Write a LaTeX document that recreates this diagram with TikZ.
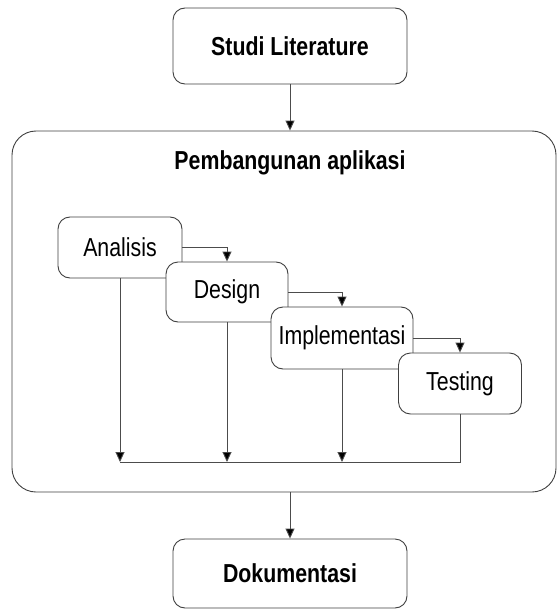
\documentclass[tikz,border=0pt]{standalone}
\usepackage{fontspec}
\setmainfont{Liberation Sans}[FakeStretch=0.82]
\usetikzlibrary{arrows.meta}
\begin{document}
\begin{tikzpicture}[x=1pt,y=-1pt,
  line width=0.9pt,
  box/.style={draw=black!75, fill=white, rounded corners=12pt, inner sep=0pt,
    font=\fontsize{26}{29}\selectfont},
  bbox/.style={box, font=\fontsize{26}{29}\selectfont\bfseries},
  conn/.style={draw=black!70},
  arr/.style={conn, -{Triangle[width=9pt,length=10pt,fill=black]}},
]
\useasboundingbox (0,0) rectangle (558,615);
\node[bbox, minimum width=234pt, minimum height=76pt] (lit) at (290,46) {Studi Literature};
\node[box, minimum width=544pt, minimum height=361pt, rounded corners=24pt] (main) at (284,311.5) {};
\node[font=\fontsize{26}{29}\selectfont\bfseries] (title) at (290,163) {Pembangunan aplikasi};
\node[box, minimum width=124pt, minimum height=61pt] (ana) at (120,247.5) {Analisis};
\node[box, minimum width=122pt, minimum height=60pt] (des) at (227,292) {Design};
\node[box, minimum width=142pt, minimum height=62pt] (imp) at (342,338) {Implementasi};
\node[box, minimum width=123pt, minimum height=61pt] (tes) at (460,383.5) {Testing};
\node[bbox, minimum width=234pt, minimum height=69pt] (doc) at (290,573.5) {Dokumentasi};
\coordinate (b1) at (120,462);
\coordinate (b2) at (227,462);
\coordinate (b3) at (342,462);
\coordinate (b4) at (460,462);
\draw[arr] (lit.south) -- (lit.south |- main.north);
\draw[arr] (lit.south |- main.south) -- (doc.north);
\draw[arr] (ana.east) -| (des.north);
\draw[arr] (des.east) -| (imp.north);
\draw[arr] (imp.east) -| (tes.north);
\draw[arr] (ana.south) -- (b1);
\draw[arr] (des.south) -- (b2);
\draw[arr] (imp.south) -- (b3);
\draw[conn] (tes.south) -- (b4) -- (b1);
\end{tikzpicture}
\end{document}
